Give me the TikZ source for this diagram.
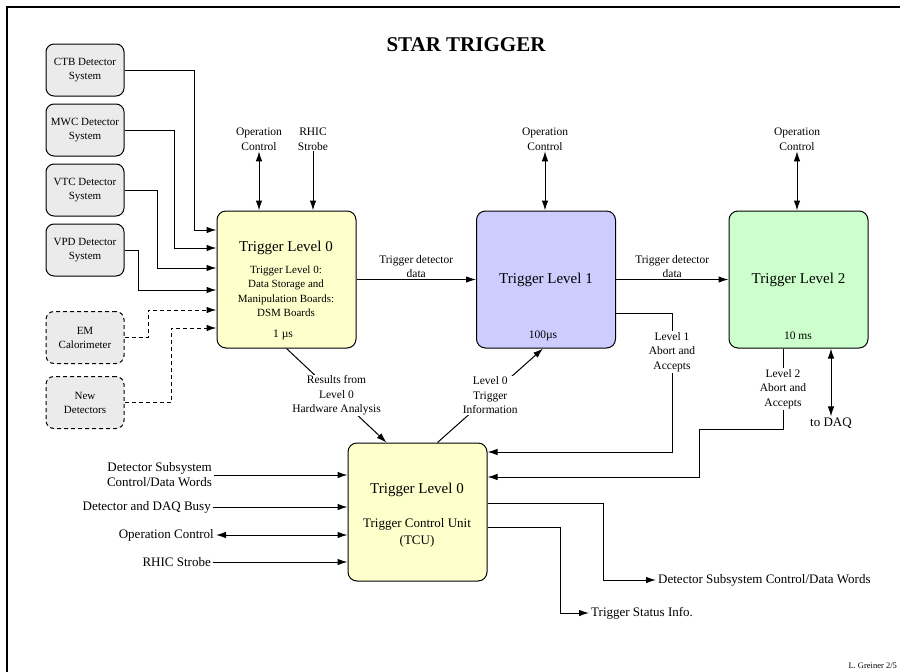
\documentclass[tikz,border=0pt]{standalone}
\usepackage{fontspec}
\setmainfont{Liberation Serif}
\usepackage{tikz}
\usetikzlibrary{arrows.meta,positioning,calc}
\usepackage{xcolor}
\definecolor{trigyellow}{RGB}{255,255,204}
\definecolor{trigblue}{RGB}{204,204,255}
\definecolor{triggreen}{RGB}{204,255,204}
\definecolor{detgray}{RGB}{235,235,235}

\begin{document}
\begin{tikzpicture}[x=1pt, y=-1pt,
    det/.style={rectangle, rounded corners=8pt, draw, line width=1pt, fill=detgray,
                minimum width=78pt, minimum height=52pt, align=center, font=\fontsize{11}{14}\selectfont},
    newdet/.style={det, dash pattern=on 4pt off 3pt},
    trig/.style={rectangle, rounded corners=9pt, draw, line width=1pt,
                 minimum width=139pt, minimum height=137pt, align=center, font=\fontsize{15}{18}\selectfont},
    lbl/.style={align=center, inner sep=1pt, font=\fontsize{11.5}{14.5}\selectfont},
    lbl2/.style={align=right, inner sep=2pt, font=\fontsize{13}{15}\selectfont},
    arr/.style={-{Latex[length=10pt,width=6.5pt]}, line width=1pt},
    darr/.style={{Latex[length=10pt,width=6.5pt]}-{Latex[length=10pt,width=6.5pt]}, line width=1pt},
    dashedarr/.style={arr, dash pattern=on 4pt off 3pt}
]
\useasboundingbox (0,0) rectangle (900,672);
\draw[line width=2.5pt] (7,672) -- (7,7) -- (900,7);

\node[font=\bfseries\fontsize{21}{24}\selectfont] (title) at (466,45) {STAR TRIGGER};

\node[det] (ctb) at (85,70) {CTB Detector\\System};
\node[det] (mwc) at (85,130) {MWC Detector\\System};
\node[det] (vtc) at (85,190) {VTC Detector\\System};
\node[det] (vpd) at (85,250) {VPD Detector\\System};
\node[newdet] (em) at (85,337.5) {EM\\Calorimeter};
\node[newdet] (new) at (85,402.5) {New\\Detectors};

\node[trig, fill=trigyellow] (tl0) at (286.5,279.5) {};
\node[font=\fontsize{15}{18}\selectfont] (tl0head) at (286,248) {Trigger Level 0};
\node[lbl, font=\fontsize{11}{14.5}\selectfont] (tl0sub) at (286,291) {Trigger Level 0:\\Data Storage and\\Manipulation Boards:\\DSM Boards};
\node[lbl] (tl0time) at (283,335) {1 µs};

\node[trig, fill=trigblue] (tl1) at (546,279.5) {Trigger Level 1};
\node[lbl] (tl1time) at (543,336) {100µs};
\node[trig, fill=triggreen] (tl2) at (798.5,279.5) {Trigger Level 2};
\node[lbl] (tl2time) at (798,336) {10 ms};

\node[trig, fill=trigyellow, minimum height=138pt] (tcu) at (417.5,512) {};
\node[font=\fontsize{15}{18}\selectfont] (tcuhead) at (417,490) {Trigger Level 0};
\node[lbl, font=\fontsize{13}{17}\selectfont] (tcusub) at (417,532.5) {Trigger Control Unit\\(TCU)};

\node[lbl] (op0) at (259,139) {Operation\\Control};
\node[lbl] (rhic) at (313,139) {RHIC\\Strobe};
\node[lbl] (op1) at (545,139) {Operation\\Control};
\node[lbl] (op2) at (797,139) {Operation\\Control};
\node[lbl] (l1lab) at (672,352) {Level 1\\Abort and\\Accepts};
\node[lbl] (l2lab) at (783,389) {Level 2\\Abort and\\Accepts};
\node[lbl, font=\fontsize{13}{15}\selectfont] (daq) at (831,423) {to DAQ};

\node[lbl2, anchor=east] (dsin) at (214,475) {Detector Subsystem\\Control/Data Words};
\node[lbl2, anchor=east] (busy) at (213,507) {Detector and DAQ Busy};
\node[lbl2, anchor=east] (opc) at (216,535) {Operation Control};
\node[lbl2, anchor=east] (rhic2) at (213,562) {RHIC Strobe};
\node[lbl2, anchor=west] (dsout) at (656,580) {Detector Subsystem Control/Data Words};
\node[lbl2, anchor=west] (status) at (589,613) {Trigger Status Info.};

\node[font=\fontsize{8.5}{9}\selectfont, anchor=west] (sig) at (845,666) {L. Greiner 2/5};

\draw[arr] (ctb) -| (194,230) -- (tl0.west |- 0,230);
\draw[arr] (mwc) -| (174,248) -- (tl0.west |- 0,248);
\draw[arr] (vtc) -| (157,268) -- (tl0.west |- 0,268);
\draw[arr] (vpd) -| (138,290) -- (tl0.west |- 0,290);
\draw[dashedarr] (em) -| (148,310) -- (tl0.west |- 0,310);
\draw[dashedarr] (new) -| (171,328) -- (tl0.west |- 0,328);

\draw[darr] (op0) -- (tl0.north -| op0);
\draw[arr] (rhic) -- (tl0.north -| rhic);
\draw[darr] (op1) -- (tl1.north -| op1);
\draw[darr] (op2) -- (tl2.north -| op2);

\draw[arr] (tl0) -- node[lbl, above] {Trigger detector\\data} (tl1);
\draw[arr] (tl1) -- node[lbl, above] {Trigger detector\\data} (tl2);

\draw[line width=1pt] (tl1.east |- 0,313) -| (l1lab);
\draw[arr] (l1lab) |- (tcu.east |- 0,452);
\draw[line width=1pt] (tl2.south -| l2lab) -- (l2lab);
\draw[arr] (l2lab) |- (699,429) |- (tcu.east |- 0,477);
\draw[darr] (tl2.south -| daq) -- (daq);

\draw[arr] (tl0.south) -- node[lbl, fill=white] {Results from\\Level 0\\Hardware Analysis} ([xshift=-31pt]tcu.north);
\draw[arr] ([xshift=20pt]tcu.north) -- node[lbl, fill=white] {Level 0\\Trigger\\Information} ([xshift=-3pt]tl1.south);

\draw[arr] (dsin) -- (tcu.west |- dsin);
\draw[arr] (busy) -- (tcu.west |- busy);
\draw[darr] (opc) -- (tcu.west |- opc);
\draw[arr] (rhic2) -- (tcu.west |- rhic2);

\draw[arr] (tcu.east |- 0,503) -| (603,580) -- (dsout);
\draw[arr] (tcu.east |- 0,527) -| (560,613) -- (status);
\end{tikzpicture}
\end{document}
